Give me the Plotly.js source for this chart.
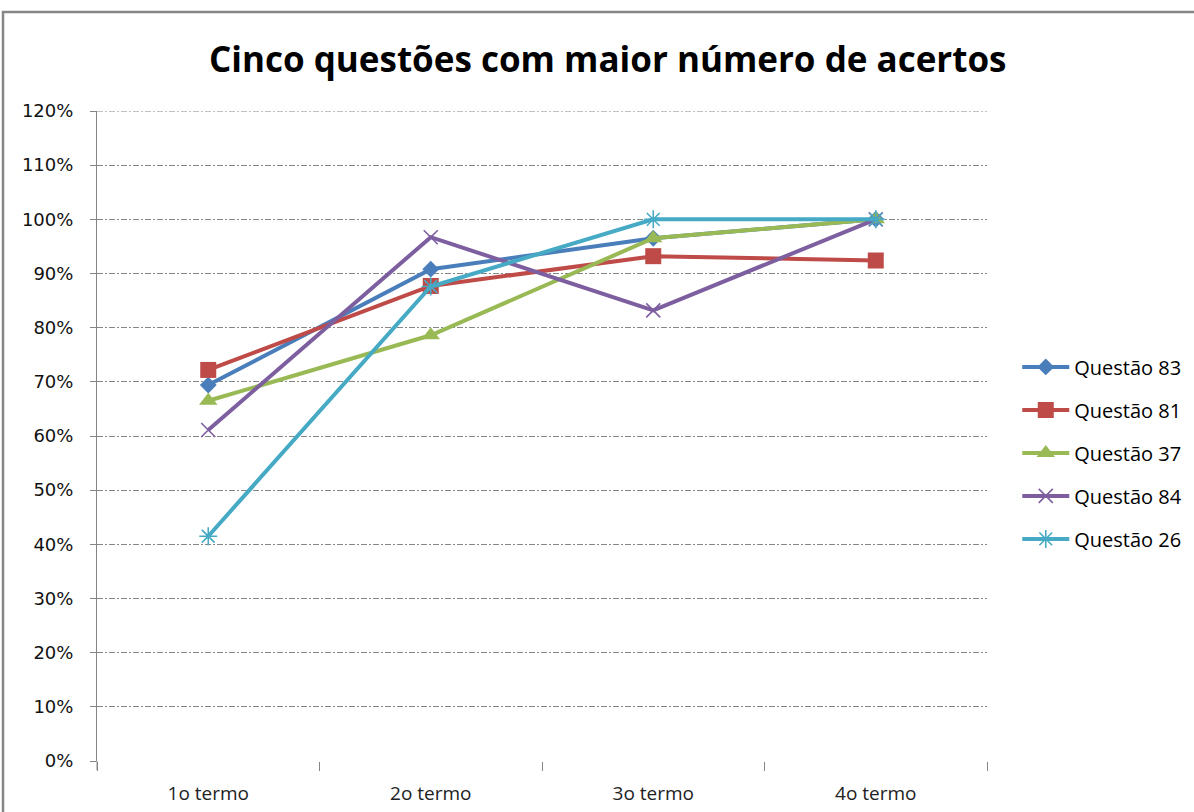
<!DOCTYPE html>
<html>
<head>
<meta charset="utf-8">
<script src="https://cdn.plot.ly/plotly-3.0.1.min.js"></script>
<style>html,body{margin:0;padding:0;background:#fff;}#chart{width:1194px;height:812px;}</style>
</head>
<body>
<div id="chart"></div>
<script>
const categories = ["1o termo", "2o termo", "3o termo", "4o termo"];
const seriesNames = ["Questão 83", "Questão 81", "Questão 37", "Questão 84", "Questão 26"];
const q83 = [0.694, 0.908, 0.965, 1.0];
const q81 = [0.722, 0.877, 0.932, 0.924];
const q37 = [0.665, 0.786, 0.965, 1.0];
const q84 = [0.611, 0.967, 0.832, 1.0];
const q26 = [0.415, 0.876, 1.0, 1.0];
const yTicks = [0, 0.1, 0.2, 0.3, 0.4, 0.5, 0.6, 0.7, 0.8, 0.9, 1.0, 1.1, 1.2];
const yTickText = ["0%", "10%", "20%", "30%", "40%", "50%", "60%", "70%", "80%", "90%", "100%", "110%", "120%"];

const values = [q83, q81, q37, q84, q26];
const colors = ["#4A7EBB", "#BE4B48", "#98B954", "#7D5FA0", "#46AAC5"];
const symbols = ["diamond", "square", "triangle-up", "x-thin-open", "asterisk-open"];
const sizes = [13, 16, 16, 14, 15];

const traces = values.map((v, i) => ({
  type: "scatter",
  mode: "lines+markers",
  x: categories,
  y: v,
  name: seriesNames[i],
  legendgroup: "g" + i,
  line: {color: colors[i], width: 4},
  marker: {symbol: symbols[i], size: sizes[i], color: colors[i],
           line: {color: colors[i], width: (i >= 3 ? 1.6 : 0)}}
}));

const gray = "#868686";
const layout = {
  width: 1194, height: 812,
  margin: {l: 97, r: 207, t: 111, b: 51, autoexpand: false},
  paper_bgcolor: "#fff", plot_bgcolor: "#fff",
  title: {
    text: "Cinco questões com maior número de acertos",
    font: {family: "Open Sans", size: 35, color: "#000", weight: 700},
    xref: "container", x: 0.509, xanchor: "center",
    yref: "container", y: 0.926, yanchor: "middle"
  },
  xaxis: {
    type: "category",
    range: [-0.5, 3.5],
    showline: false, showgrid: false, zeroline: false,
    ticks: "outside", tickson: "boundaries", ticklen: 9, tickcolor: gray, tickwidth: 1,
    tickfont: {family: "Open Sans", size: 19, color: "#222"},
    ticklabelstandoff: 19
  },
  yaxis: {
    range: [0, 1.2],
    tickvals: yTicks, ticktext: yTickText,
    showline: true, linecolor: gray, linewidth: 1,
    ticks: "outside", ticklen: 6, tickcolor: gray,
    showgrid: true, gridcolor: gray, gridwidth: 1, griddash: "6px,2px,2px,2px",
    zeroline: false,
    tickfont: {family: "DejaVu Sans", size: 18, color: "#111"},
    ticklabelstandoff: 13
  },
  legend: {
    x: 1.034, xanchor: "left", y: 0.474, yanchor: "middle",
    font: {family: "Open Sans", size: 20, color: "#000"},
    itemwidth: 47,
    tracegroupgap: 14,
    bgcolor: "rgba(0,0,0,0)"
  },
  shapes: [
    {type: "rect", xref: "paper", yref: "paper", x0: -0.1056, x1: 1.3, y0: -0.2, y1: 1.1523,
     line: {color: gray, width: 2.5}, fillcolor: "rgba(0,0,0,0)", layer: "below"},
    {type: "line", xref: "paper", yref: "paper", x0: 0, x1: 0, y0: 0, y1: -0.0138,
     line: {color: gray, width: 1}},
    {type: "line", xref: "paper", yref: "y", x0: 0, x1: 1, y0: 1.2, y1: 1.2,
     line: {color: gray, width: 1, dash: "6px,2px,2px,2px"}}
  ],
  showlegend: true
};

Plotly.newPlot("chart", traces, layout, {displayModeBar: false, staticPlot: true});
</script>
</body>
</html>
